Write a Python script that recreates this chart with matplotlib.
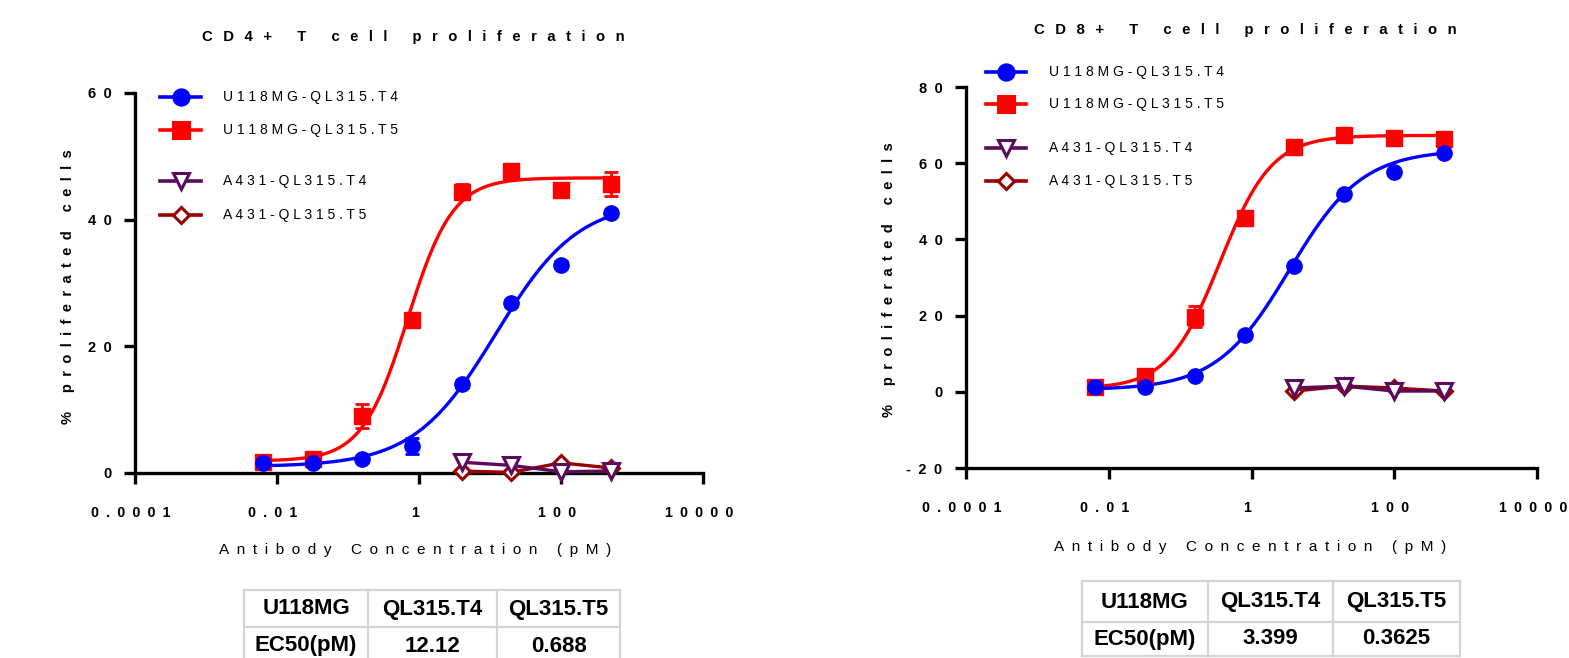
import numpy as np
import matplotlib
matplotlib.use('Agg')
import matplotlib.pyplot as plt
from matplotlib.ticker import NullLocator
from matplotlib.transforms import ScaledTranslation

plt.rcParams['font.family'] = ['Liberation Sans', 'DejaVu Sans']

# concentrations (pM)
conc = [0.0064, 0.032, 0.16, 0.8, 4, 20, 100, 500]
conc_a431 = [4, 20, 100, 500]

# CD4+ panel
cd4_t4 = [1.6, 1.6, 2.2, 4.3, 14.0, 26.8, 32.9, 41.1]
cd4_t4_err = [0.3, 0.3, 0.3, 1.3, 0.5, 0.5, 0.5, 0.5]
cd4_t5 = [1.7, 2.2, 9.0, 24.1, 44.4, 47.7, 44.7, 45.7]
cd4_t5_err = [0.4, 0.6, 1.9, 0.5, 1.2, 0.5, 0.4, 1.9]
cd4_a431_t4 = [1.7, 1.2, 0.2, 0.3]
cd4_a431_t5 = [0.3, 0.1, 1.6, 0.8]
# 4PL fit: bottom, top, EC50, hill
cd4_fit_t4 = [1.0, 43.0, 12.12, 0.75]
cd4_fit_t5 = [1.9, 46.6, 0.688, 1.36]

# CD8+ panel
cd8_t4 = [1.2, 1.2, 4.1, 15.0, 33.1, 51.9, 57.7, 62.8]
cd8_t4_err = [0.5, 0.5, 0.5, 0.5, 0.5, 0.5, 0.5, 0.5]
cd8_t5 = [1.3, 4.1, 19.7, 45.5, 64.3, 67.3, 66.7, 66.3]
cd8_t5_err = [0.5, 2.0, 2.8, 0.5, 0.5, 0.5, 0.5, 0.5]
cd8_a431_t4 = [1.0, 1.5, 0.2, 0.2]
cd8_a431_t5 = [0.2, 1.5, 1.0, 0.2]
cd8_fit_t4 = [0.5, 63.5, 3.399, 0.85]
cd8_fit_t5 = [0.8, 67.3, 0.3625, 1.2]

legend_labels = ['U118MG-QL315.T4', 'U118MG-QL315.T5', 'A431-QL315.T4', 'A431-QL315.T5']
xtick_vals = [1e-4, 1e-2, 1, 1e2, 1e4]
xtick_labels = ['0.0001', '0.01', '1', '100', '10000']

table_header = ['U118MG', 'QL315.T4', 'QL315.T5']
cd4_table_row = ['EC50(pM)', '12.12', '0.688']
cd8_table_row = ['EC50(pM)', '3.399', '0.3625']

BLUE, RED, PURPLE, DRED = '#0000ff', '#ff0000', '#5c0a5c', '#990000'

W, H = 1569, 658
fig = plt.figure(figsize=(W / 100, H / 100), dpi=100)


def sp(s, sep='\u2002'):
    return sep.join(s)


def fourpl(x, p):
    b, t, ec, h = p
    return b + (t - b) / (1 + (ec / x) ** h)


def px(x0, y0, x1, y1):
    return [x0 / W, 1 - y1 / H, (x1 - x0) / W, (y1 - y0) / H]


def panel(rect, ylim, yticks, t4, t4e, t5, t5e, a4, a5, f4, f5):
    ax = fig.add_axes(rect)
    ax.set_xscale('log')
    ax.set_xlim(1e-4, 1e4)
    ax.set_ylim(*ylim)
    ax.xaxis.set_minor_locator(NullLocator())
    ax.set_xticks(xtick_vals)
    ax.set_xticklabels([sp(t) for t in xtick_labels], fontweight='bold', fontsize=10.3)
    ax.set_yticks(yticks)
    ax.set_yticklabels([sp(str(t)) for t in yticks], fontweight='bold', fontsize=10.5)
    for s in ['top', 'right']:
        ax.spines[s].set_visible(False)
    for s in ['left', 'bottom']:
        ax.spines[s].set_linewidth(2.4)
    ax.tick_params(axis='x', length=8, width=2.4, pad=16)
    ax.tick_params(axis='y', length=8, width=2.4, pad=9)
    # labels sit a little left of their ticks in the original
    shift = ScaledTranslation(-4 / 100, 0, fig.dpi_scale_trans)
    for tick in ax.xaxis.get_major_ticks():
        tick.label1.set_transform(tick.label1.get_transform() + shift)
    ax.patch.set_alpha(0)

    xs = np.logspace(np.log10(conc[0]), np.log10(conc[-1]), 200)
    ax.plot(xs, fourpl(xs, f5), color=RED, lw=2.4, zorder=2)
    ax.plot(xs, fourpl(xs, f4), color=BLUE, lw=2.4, zorder=2)
    ax.errorbar(conc, t5, yerr=t5e, fmt='s', color=RED, ms=11, capsize=5,
                elinewidth=2, capthick=2, zorder=3, clip_on=False)
    ax.errorbar(conc, t4, yerr=t4e, fmt='o', color=BLUE, ms=11, capsize=5,
                elinewidth=2, capthick=2, zorder=4, clip_on=False)
    ax.plot(conc_a431, a5, color=DRED, lw=2.4, marker='D', ms=8.5, mfc='white',
            mec=DRED, mew=2.2, zorder=5, clip_on=False)
    ax.plot(conc_a431, a4, color=PURPLE, lw=2.4, marker='v', ms=11.5, mfc='white',
            mec=PURPLE, mew=2.2, zorder=6, clip_on=False)
    return ax


ax1 = panel(px(135, 93, 703, 473), (0, 60), [0, 20, 40, 60],
            cd4_t4, cd4_t4_err, cd4_t5, cd4_t5_err, cd4_a431_t4, cd4_a431_t5,
            cd4_fit_t4, cd4_fit_t5)
ax2 = panel(px(966, 87, 1537, 468), (-20, 80), [-20, 0, 20, 40, 60, 80],
            cd8_t4, cd8_t4_err, cd8_t5, cd8_t5_err, cd8_a431_t4, cd8_a431_t5,
            cd8_fit_t4, cd8_fit_t5)

# overlay in pixel coordinates for titles, labels, legends and tables
ov = fig.add_axes([0, 0, 1, 1])
ov.set_xlim(0, W)
ov.set_ylim(H, 0)
ov.axis('off')
ov.patch.set_alpha(0)

title_sep = '\u2002\u2009'
ov.text(413, 37, sp('CD4+ T cell proliferation', title_sep), ha='center', va='center',
        fontsize=10.7, fontweight='bold')
ov.text(1245, 30, sp('CD8+ T cell proliferation', title_sep), ha='center', va='center',
        fontsize=10.7, fontweight='bold')
ov.text(415, 550, sp('Antibody Concentration (pM)'), ha='center', va='center', fontsize=11)
ov.text(1250, 547, sp('Antibody Concentration (pM)'), ha='center', va='center', fontsize=11)
ov.text(68, 287, sp('% proliferated cells'), ha='center', va='center', rotation=90,
        fontsize=10.5, fontweight='bold')
ov.text(889, 280, sp('% proliferated cells'), ha='center', va='center', rotation=90,
        fontsize=10.5, fontweight='bold')

styles = [(BLUE, 'o', BLUE, 11), (RED, 's', RED, 11),
          (PURPLE, 'v', 'white', 11.5), (DRED, 'D', 'white', 8.5)]


def legend(x0, x1, tx, ys):
    for (c, m, fc, ms), y, lab in zip(styles, ys, legend_labels):
        ov.plot([x0, (x0 + x1) / 2, x1], [y, y, y], color=c, lw=2.6, marker=m,
                markevery=[1], mfc=fc, mec=c, ms=ms, mew=2.2, clip_on=False)
        ov.text(tx, y, sp(lab, ' '), ha='left', va='center', fontsize=10)


legend(160, 201, 223, [97, 130, 181, 215])
legend(986, 1026, 1049, [72, 104, 148, 181])


def table(xs, ys, row, text_y):
    for x in xs:
        ov.plot([x, x], [ys[0], ys[-1]], color='#d4d4d4', lw=1.6, clip_on=False)
    for y in ys:
        ov.plot([xs[0], xs[-1]], [y, y], color='#d4d4d4', lw=1.6, clip_on=False)
    for yc, cells in zip(text_y, [table_header, row]):
        for c, txt in enumerate(cells):
            ov.text((xs[c] + xs[c + 1]) / 2, yc, txt, ha='center', va='center',
                    fontsize=16, fontweight='bold')


table([244, 368, 497, 620], [590, 627, 664], cd4_table_row, [609, 646])
table([1082, 1208, 1333, 1460], [581, 622, 656], cd8_table_row, [602, 639])

fig.savefig('out.png', dpi=100)
